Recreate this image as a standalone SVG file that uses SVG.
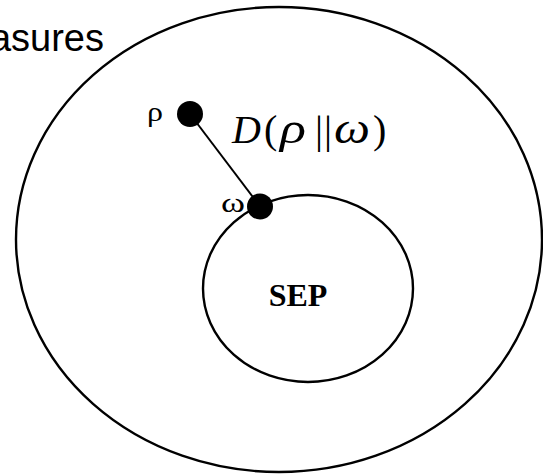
<svg xmlns="http://www.w3.org/2000/svg" width="543" height="474" viewBox="0 0 543 474">
<style>
.ring{fill:none;stroke:#000;stroke-width:2.4}
.dot{fill:#000}
.lbl{font-family:"Liberation Serif","Times New Roman",serif;fill:#000}
.conn{stroke:#000;stroke-width:2;fill:none}
</style>
<rect width="543" height="474" fill="#fff"/>
<g id="measures">
<ellipse class="ring" cx="279" cy="239.5" rx="263" ry="232.5"/>
<text x="104" y="51" text-anchor="end" font-family="'Liberation Sans',Arial,sans-serif" font-size="38">asures</text>
</g>
<g id="sep">
<ellipse class="ring" cx="308" cy="288.5" rx="105" ry="93.5"/>
<text class="lbl" x="298" y="306" text-anchor="middle" font-size="32" font-weight="bold">SEP</text>
</g>
<g id="connectors">
<line class="conn" x1="190" y1="114" x2="260" y2="206.5"/>
</g>
<g id="rho">
<circle class="dot" cx="190" cy="114" r="13"/>
<text class="lbl" x="147" y="121" font-size="28" textLength="16" lengthAdjust="spacingAndGlyphs">ρ</text>
</g>
<g id="omega">
<circle class="dot" cx="260" cy="206.5" r="13"/>
<text class="lbl" x="221" y="212" font-size="28" textLength="24" lengthAdjust="spacingAndGlyphs">ω</text>
</g>
<g id="divergence" class="lbl" font-size="40">
<text x="232" y="143" font-style="italic">D</text>
<text x="264" y="143">(</text>
<text x="280" y="143" font-style="italic" font-size="44" textLength="26" lengthAdjust="spacingAndGlyphs">ρ</text>
<text x="315" y="143">|</text>
<text x="324" y="143">|</text>
<text x="334" y="143" font-style="italic" font-size="44" textLength="36" lengthAdjust="spacingAndGlyphs">ω</text>
<text x="373" y="143">)</text>
</g>
</svg>
